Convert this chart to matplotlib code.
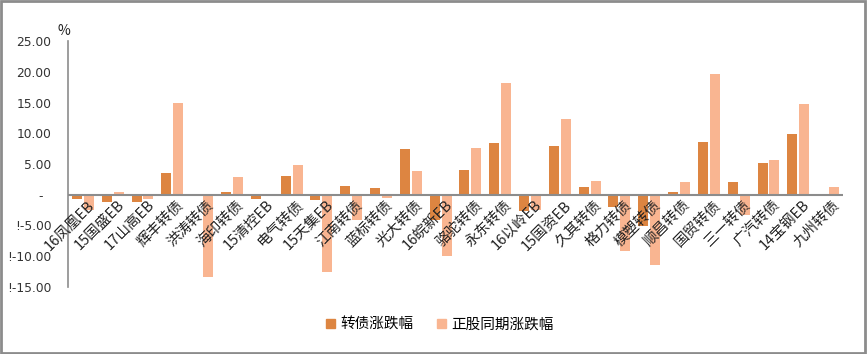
import matplotlib.pyplot as plt
import numpy as np
from matplotlib.patches import Patch, Rectangle

plt.rcParams['font.family'] = ['Noto Sans CJK SC', 'DejaVu Sans']

# 数据（%）
nombres = ['16凤凰EB', '15国盛EB', '17山高EB', '辉丰转债', '洪涛转债', '海印转债',
           '15清控EB', '电气转债', '15天集EB', '江南转债', '蓝标转债', '光大转债',
           '16皖新EB', '骆驼转债', '永东转债', '16以岭EB', '15国资EB', '久其转债',
           '格力转债', '模塑转债', '顺昌转债', '国贸转债', '三一转债', '广汽转债',
           '14宝钢EB', '九州转债']
zhuanzhai = [-0.7, -1.2, -1.1, 3.5, 0.0, 0.4, -0.7, 3.0, -0.9, 1.5, 1.05, 7.4,
             -4.1, 4.0, 8.4, -2.7, 7.9, 1.2, -2.0, -5.1, 0.4, 8.5, 2.0, 5.1,
             9.8, 0.0]
zhenggu = [-2.5, 0.4, -0.7, 14.9, -13.4, 2.85, -0.25, 4.8, -12.5, -4.1, -0.5, 3.8,
           -10.0, 7.55, 18.1, -2.4, 12.3, 2.2, -9.2, -11.5, 2.0, 19.6, -3.3, 5.6,
           14.7, 1.2]
yticks = [-15, -10, -5, 0, 5, 10, 15, 20, 25]
ylabels = ['!-15.00', '!-10.00', '!-5.00', '-  ', '5.00', '10.00', '15.00', '20.00', '25.00']

c_dark = '#DD8541'
c_light = '#F9B591'

fig = plt.figure(figsize=(8.67, 3.54), dpi=100)
ax = fig.add_axes([68/867, 1-287/354, (843-68)/867, (287-41)/354])

x = np.arange(len(nombres))
ancho = 0.335
ax.bar(x - 0.2, zhuanzhai, width=ancho, color=c_dark, zorder=2)
ax.bar(x + 0.2, zhenggu, width=ancho, color=c_light, zorder=2)

ax.set_xlim(-0.5, len(nombres) - 0.5)
ax.set_ylim(-15, 25)
ax.set_yticks(yticks)
ax.set_yticklabels(ylabels, fontsize=8.8, color='#333333', family='DejaVu Sans')
ax.tick_params(axis='y', length=0, pad=12)
ax.set_xticks([])
ax.axhline(0, color='#8c8c8c', lw=1.5, zorder=3)
for s in ['top', 'right', 'bottom']:
    ax.spines[s].set_visible(False)
ax.spines['left'].set_color('#8c8c8c')
ax.spines['left'].set_linewidth(1.2)

# 类别标签
for i, n in enumerate(nombres):
    ax.text(i + 0.15, -0.5, n, rotation=45, ha='right', va='top',
            rotation_mode='anchor', fontsize=10.5, color='#222222', zorder=4)

ax.text(-4/775, 1 + 10/246, '%', transform=ax.transAxes, fontsize=10,
        ha='center', va='center', color='#222222')

handles = [Patch(color=c_dark, label='转债涨跌幅'),
           Patch(color=c_light, label='正股同期涨跌幅')]
fig.legend(handles=handles, loc='center', bbox_to_anchor=(440/867, 1-325/354),
           ncol=2, frameon=False, fontsize=10.5, handlelength=0.6, handleheight=0.6,
           handletextpad=0.4, columnspacing=1.6)

fig.patches.append(Rectangle((0.001, 0.002), 0.997, 0.995, transform=fig.transFigure,
                             fill=False, edgecolor='#8c8c8c', lw=2))

fig.savefig('out.png', dpi=100)
